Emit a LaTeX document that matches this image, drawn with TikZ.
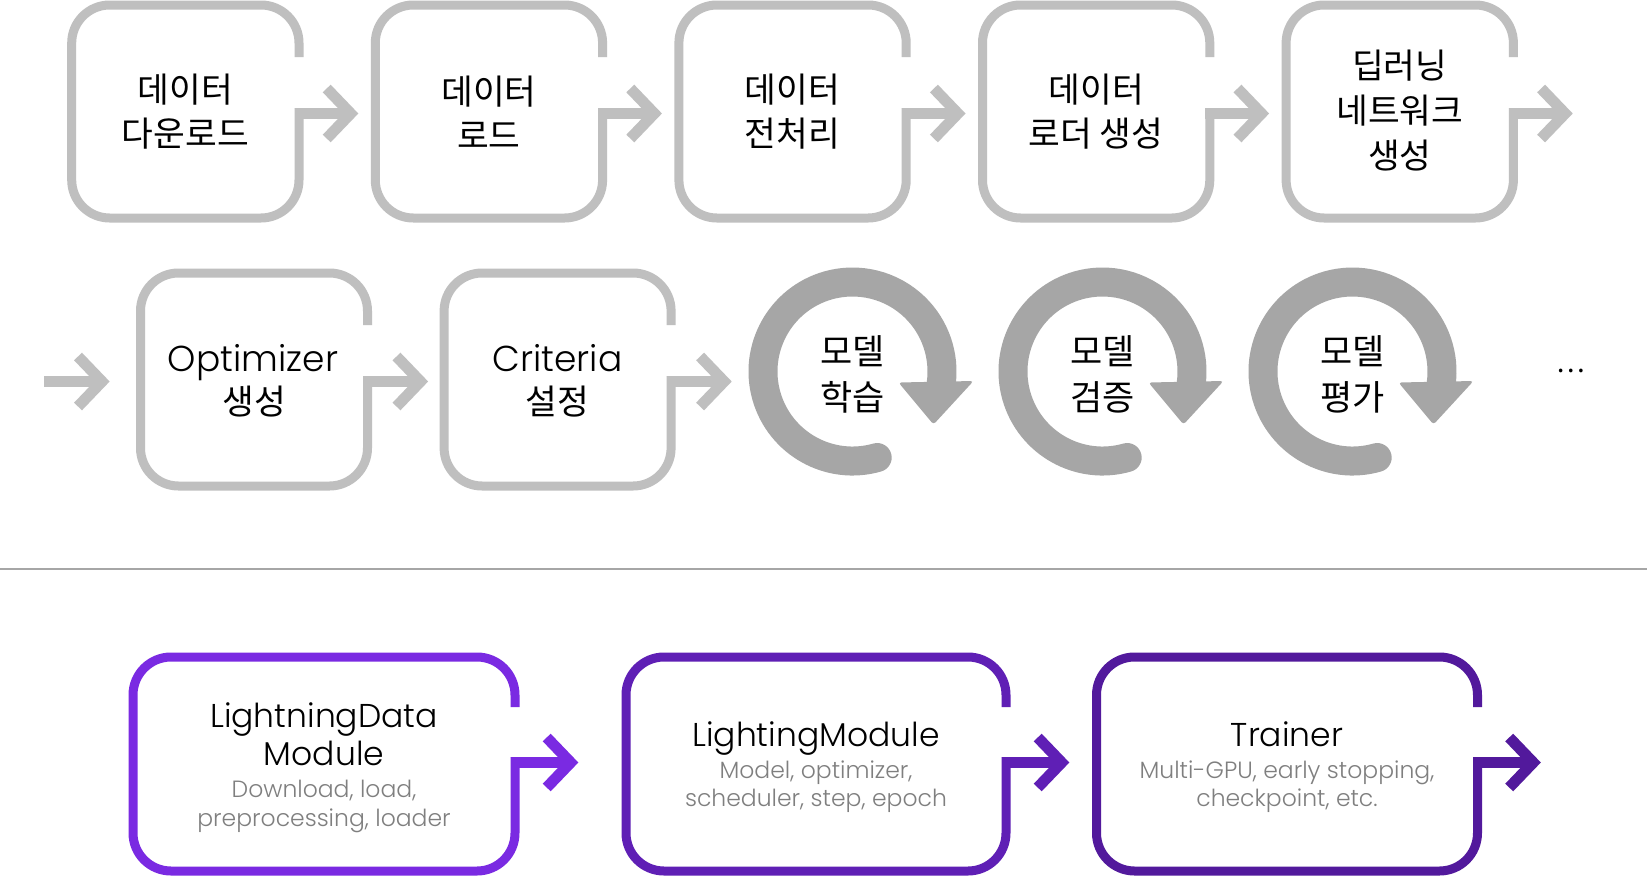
\documentclass[tikz,border=0pt]{standalone}
\usepackage{fontspec}
\setmainfont{Noto Sans CJK KR}
\newfontfamily\lat{Poppins}[UprightFont={* Light}]
\usetikzlibrary{calc}
\definecolor{boxgray}{HTML}{BFBFBF}
\definecolor{ringgray}{HTML}{A6A6A6}
\definecolor{subgray}{HTML}{7F7F7F}
\definecolor{sepgray}{HTML}{A6A6A6}
\definecolor{purA}{HTML}{7A2AE2}
\definecolor{purB}{HTML}{5F1FB5}
\definecolor{purC}{HTML}{52199C}
\tikzset{
  outl/.style={line width=9, rounded corners=38, line cap=butt},
  stemln/.style={line width=11, line join=miter, miter limit=10},
  boxn/.style={inner sep=0, outer sep=0, minimum height=213, draw=none},
  kt/.style={font=\fontsize{34.5}{44}\selectfont, align=center, inner sep=0},
  kt3/.style={font=\fontsize{34.5}{45}\selectfont, align=center, inner sep=0},
  rt/.style={font=\fontsize{35}{46}\selectfont, align=center, inner sep=0},
  kb/.style={font=\fontsize{34.5}{44}\selectfont, inner sep=0, anchor=base},
  lt/.style={font=\lat\fontsize{36}{40}\selectfont, inner sep=0, anchor=base},
  ringln/.style={line width=29, draw=ringgray, line cap=round},
  ptitle/.style={font=\lat\fontsize{33}{38}\selectfont, inner sep=0, anchor=base},
  psub/.style={font=\lat\fontsize{23.5}{28}\selectfont, text=subgray, inner sep=0, anchor=base},
}
\newcommand\boxoutline[4]{%
  \draw[outl,draw=#2] ($(#1.north east)+(0,#3)$) -- (#1.north east) -- (#1.north west) -- (#1.south west) -- (#1.south east) -- ($(#1.north east)+(0,#4-5.5)$);}
\newcommand\boxarrow[4]{%
  \draw[stemln,draw=#2] ($(#1.north east)+(-4.5,#4)$) -- (#3);
  \draw[stemln,draw=#2] (#3) ++(-24,-25) -- (#3) -- ++(-24,25);}
\newcommand\ringarrow[1]{%
  \draw[ringln] (#1) ++(74:89.5) arc[start angle=74,end angle=368,radius=89.5];
  \fill[ringgray, rounded corners=3] ($(#1)+(46,11)$) -- ($(#1)+(121,9.5)$) -- ($(#1)+(81,53)$) -- cycle;}
\begin{document}
\begin{tikzpicture}[x=1pt,y=-1pt]
\fill[white] (0,0) rectangle (1647,876);
\useasboundingbox (0,0) rectangle (1647,876);

% ---- top row
\node[boxn, minimum width=227.3] (b1) at (185.35,111.5) {};
\node[boxn, minimum width=227.3] (b2) at (488.95,111.5) {};
\node[boxn, minimum width=227.3] (b3) at (792.55,111.5) {};
\node[boxn, minimum width=227.3] (b4) at (1096.15,111.5) {};
\node[boxn, minimum width=227.3] (b5) at (1399.75,111.5) {};
\foreach \b in {b1,b2,b3,b4,b5}{
  \boxoutline{\b}{boxgray}{52}{108.5}
  \coordinate (\b a) at ($(\b.north east)+(51.7,108.5)$);
  \boxarrow{\b}{boxgray}{\b a}{108.5}
}
\node[kt] (b1t) at (185.35,112) {데이터\\다운로드};
\node[kt] (b2t) at (488.95,112) {데이터\\로드};
\node[kt] (b3t) at (792.55,112) {데이터\\전처리};
\node[kt] (b4t) at (1096.15,112) {데이터\\로더 생성};
\node[kt3] (b5t) at (1399.75,110.5) {딥러닝\\네트워크\\생성};

% ---- second row
\coordinate (l0) at (44,381.5);
\coordinate (l1) at (102,381.5);
\draw[stemln,draw=boxgray] (l0) -- (l1);
\draw[stemln,draw=boxgray] (l1) ++(-24,-25) -- (l1) -- ++(-24,25);

\node[boxn, minimum width=227] (b6) at (254,379.5) {};
\node[boxn, minimum width=227] (b7) at (557.6,379.5) {};
\foreach \b in {b6,b7}{
  \boxoutline{\b}{boxgray}{52}{108.5}
  \coordinate (\b a) at ($(\b.north east)+(53,108.5)$);
  \boxarrow{\b}{boxgray}{\b a}{108.5}
}
\node[lt] (b6t) at (253,371.7) {Optimizer};
\node[kb] (b6k) at (254,414) {생성};
\node[lt] (b7t) at (557.6,371.7) {Criteria};
\node[kb] (b7k) at (557.6,414) {설정};

\coordinate (r1) at (852.5,371.5);
\coordinate (r2) at (1102.5,371.5);
\coordinate (r3) at (1352.5,371.5);
\ringarrow{r1}
\ringarrow{r2}
\ringarrow{r3}
\node[rt] (r1t) at (852.5,374) {모델\\학습};
\node[rt] (r2t) at (1102.5,374) {모델\\검증};
\node[rt] (r3t) at (1352.5,374) {모델\\평가};
\node[inner sep=0, font=\fontsize{27}{30}\selectfont, anchor=base] (dots) at (1571,372) {…};

% ---- separator
\coordinate (s0) at (0,569);
\coordinate (s1) at (1647,569);
\draw[sepgray, line width=1.5] (s0) -- (s1);

% ---- purple row
\node[boxn, minimum width=382, minimum height=214] (p1) at (324,764) {};
\node[boxn, minimum width=380, minimum height=214] (p2) at (816,764) {};
\node[boxn, minimum width=381, minimum height=214] (p3) at (1287,764) {};
\boxoutline{p1}{purA}{50}{105.5}
\boxoutline{p2}{purB}{50}{105.5}
\boxoutline{p3}{purC}{50}{105.5}
\coordinate (p1a) at ($(p1.north east)+(55.7,105.5)$);
\coordinate (p2a) at ($(p2.north east)+(55.7,105.5)$);
\coordinate (p3a) at ($(p3.north east)+(55.7,105.5)$);
\boxarrow{p1}{purA}{p1a}{105.5}
\boxarrow{p2}{purB}{p2a}{105.5}
\boxarrow{p3}{purC}{p3a}{105.5}

\node[ptitle] (p1t1) at (324,727.3) {LightningData};
\node[ptitle] (p1t2) at (324,765) {Module};
\node[psub] (p1s1) at (324,797.3) {Download, load,};
\node[psub] (p1s2) at (324,826.7) {preprocessing, loader};

\node[ptitle] (p2t1) at (816,746) {LightingModule};
\node[psub] (p2s1) at (816,778.3) {Model, optimizer,};
\node[psub] (p2s2) at (816,806.7) {scheduler, step, epoch};

\node[ptitle] (p3t1) at (1287,746) {Trainer};
\node[psub] (p3s1) at (1287,778.3) {Multi-GPU, early stopping,};
\node[psub] (p3s2) at (1287,806.7) {checkpoint, etc.};
\end{tikzpicture}
\end{document}
